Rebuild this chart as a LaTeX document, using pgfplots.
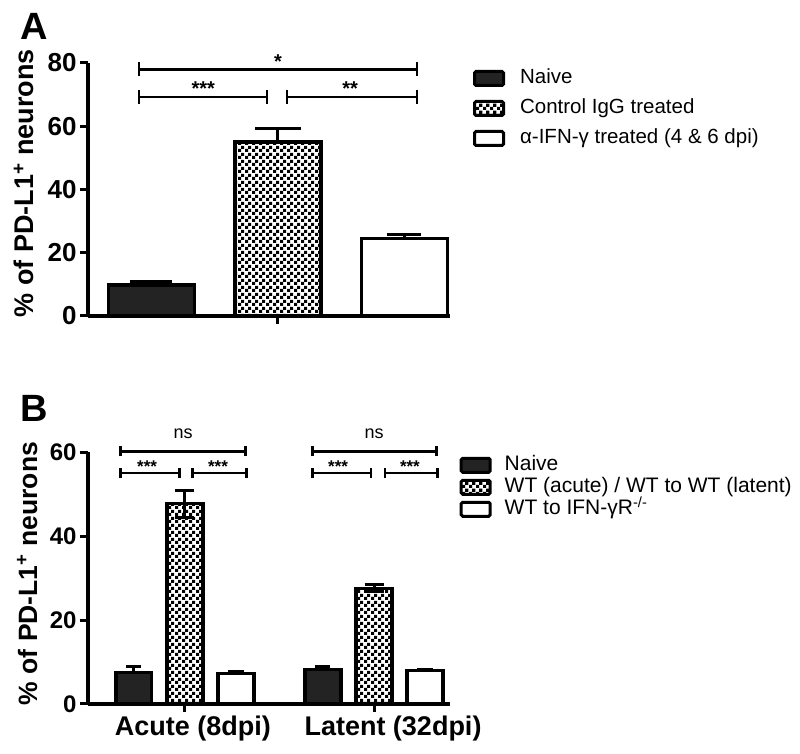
\documentclass[border=0pt]{standalone}
\usepackage{fontspec}
\setmainfont{Liberation Sans}
\usepackage{pgfplots}
\pgfplotsset{compat=1.18}
\usetikzlibrary{patterns}
\pgfdeclarepatternformonly{bigchecker}{\pgfpointorigin}{\pgfqpoint{7pt}{7pt}}{\pgfqpoint{7pt}{7pt}}{%
\pgfpathrectangle{\pgfpointorigin}{\pgfqpoint{3.5pt}{3.5pt}}%
\pgfpathrectangle{\pgfqpoint{3.5pt}{3.5pt}}{\pgfqpoint{3.5pt}{3.5pt}}%
\pgfusepath{fill}}
\definecolor{naive}{HTML}{232323}
\pgfplotsset{
 boxlegend/.style={legend image code/.code={\draw[##1, line width=3pt, rounded corners=1.5pt] (0pt,-7pt) rectangle (29pt,7pt);}},
 mybar/.style={ybar, bar shift=0pt, draw=black, line width=3.2pt, boxlegend,
   error bars/y dir=plus, error bars/y explicit,
   error bars/error bar style={line width=3pt, black},
   error bars/error mark options={rotate=90, mark size=#1, line width=3pt, black}},
 common/.style={scale only axis, axis lines=left, axis line style={-, line width=3.3pt},
   clip=false, tick align=outside, major tick length=8pt, tick style={line width=3pt, black},
   /pgf/number format/assume math mode=true, legend cell align=left},
}
\newcommand{\brk}[4]{%
 \draw[line width=2.6pt] (axis cs:#1,#3) -- (axis cs:#2,#3);
 \draw[line width=2.6pt] ([yshift=-#4]axis cs:#1,#3) -- ([yshift=#4]axis cs:#1,#3);
 \draw[line width=2.6pt] ([yshift=-#4]axis cs:#2,#3) -- ([yshift=#4]axis cs:#2,#3);}
\begin{document}
\begin{tikzpicture}
\path[use as bounding box] (0,0) rectangle (800pt,754pt);
\node[anchor=north west, inner sep=0pt, font=\bfseries\fontsize{38pt}{38pt}\selectfont] at (20pt,741pt) {A};
\node[anchor=north west, inner sep=0pt, font=\bfseries\fontsize{38pt}{38pt}\selectfont] at (20pt,359pt) {B};
% Panel A
\begin{axis}[common, width=362pt, height=253pt, at={(88pt,438pt)}, anchor=south west,
 xmin=0.498, xmax=3.36, ymin=0, ymax=80,
 ytick={0,20,40,60,80}, xtick={2}, xticklabels={},
 yticklabel style={font=\bfseries\fontsize{26pt}{26pt}\selectfont},
 ylabel={\% of PD-L1\textsuperscript{+} neurons},
 ylabel style={font=\bfseries\fontsize{27pt}{27pt}\selectfont, at={(axis description cs:-0.177,0.524)}, anchor=center},
 legend style={at={(axis description cs:1.055,0.985)}, anchor=north west, draw=none, fill=none,
   font=\fontsize{20.5pt}{24pt}\selectfont, nodes={inner sep=0pt, text height=15pt, text depth=4pt},
   row sep=11pt, column sep=15pt},
]
\addplot[mybar=21pt, bar width=0.68, fill=naive] coordinates {(1,9.8) +- (0,1.0)};
\addlegendentry{Naive}
\addplot[mybar=23pt, bar width=0.68, pattern=bigchecker] coordinates {(2,55.0) +- (0,4.2)};
\addlegendentry{Control IgG treated}
\addplot[mybar=17pt, bar width=0.68, fill=white] coordinates {(3,24.4) +- (0,1.4)};
\addlegendentry{α-IFN-γ treated (4 \& 6 dpi)}
\brk{0.901}{3.099}{78}{7pt}
\brk{0.901}{1.913}{69.2}{7pt}
\brk{2.071}{3.099}{69.2}{7pt}
\node[anchor=north, inner sep=0pt, font=\bfseries\fontsize{20pt}{20pt}\selectfont] at (axis cs:2,82.6) {*};
\node[anchor=north, inner sep=0pt, font=\bfseries\fontsize{20pt}{20pt}\selectfont] at (axis cs:1.41,74.1) {***};
\node[anchor=north, inner sep=0pt, font=\bfseries\fontsize{20pt}{20pt}\selectfont] at (axis cs:2.57,74.1) {**};
\end{axis}
% Panel B
\begin{axis}[common, width=362pt, height=251.7pt, at={(88pt,50pt)}, anchor=south west,
 xmin=-0.513, xmax=1.402, ymin=0, ymax=60,
 ytick={0,20,40,60}, xtick={0,1}, xticklabels={\hspace*{16pt}Acute (8dpi), \hspace*{38pt}Latent (32dpi)},
 yticklabel style={font=\bfseries\fontsize{24pt}{24pt}\selectfont},
 xticklabel style={font=\bfseries\fontsize{27pt}{27pt}\selectfont},
 ylabel={\% of PD-L1\textsuperscript{+} neurons},
 ylabel style={font=\bfseries\fontsize{26.5pt}{26.5pt}\selectfont, at={(axis description cs:-0.168,0.518)}, anchor=center},
 legend style={at={(axis description cs:1.018,0.995)}, anchor=north west, draw=none, fill=none,
   font=\fontsize{21pt}{24pt}\selectfont, nodes={inner sep=0pt, text height=15pt, text depth=4pt},
   row sep=3pt, column sep=13pt},
]
\addplot[mybar=7.5pt, bar width=0.19, fill=naive] coordinates {(-0.27,7.6) +- (0,1.3) (0.73,8.3) +- (0,0.6)};
\addlegendentry{Naive}
\addplot[mybar=9.5pt, bar width=0.19, pattern=bigchecker, error bars/y dir=both] coordinates {(0,47.7) +- (0,3.2) (1,27.6) +- (0,0.9)};
\addlegendentry{WT (acute) / WT to WT (latent)}
\addplot[mybar=8pt, bar width=0.19, fill=white] coordinates {(0.27,7.3) +- (0,0.5) (1.27,7.9) +- (0,0.4)};
\addlegendentry{WT to IFN-γR\textsuperscript{-/-}}
\brk{-0.340}{0.321}{60.2}{5pt}
\brk{-0.340}{-0.030}{55.1}{5pt}
\brk{0.039}{0.326}{55.1}{5pt}
\brk{0.676}{1.332}{60.2}{5pt}
\brk{0.676}{0.984}{55.1}{5pt}
\brk{1.058}{1.337}{55.1}{5pt}
\node[anchor=base, inner sep=0pt, font=\fontsize{18pt}{18pt}\selectfont] at (axis cs:-0.01,63.4) {ns};
\node[anchor=base, inner sep=0pt, font=\fontsize{18pt}{18pt}\selectfont] at (axis cs:1.0,63.4) {ns};
\node[anchor=north, inner sep=0pt, font=\bfseries\fontsize{17pt}{17pt}\selectfont] at (axis cs:-0.2,58.0) {***};
\node[anchor=north, inner sep=0pt, font=\bfseries\fontsize{17pt}{17pt}\selectfont] at (axis cs:0.175,58.0) {***};
\node[anchor=north, inner sep=0pt, font=\bfseries\fontsize{17pt}{17pt}\selectfont] at (axis cs:0.81,58.0) {***};
\node[anchor=north, inner sep=0pt, font=\bfseries\fontsize{17pt}{17pt}\selectfont] at (axis cs:1.19,58.0) {***};
\end{axis}
\end{tikzpicture}
\end{document}
